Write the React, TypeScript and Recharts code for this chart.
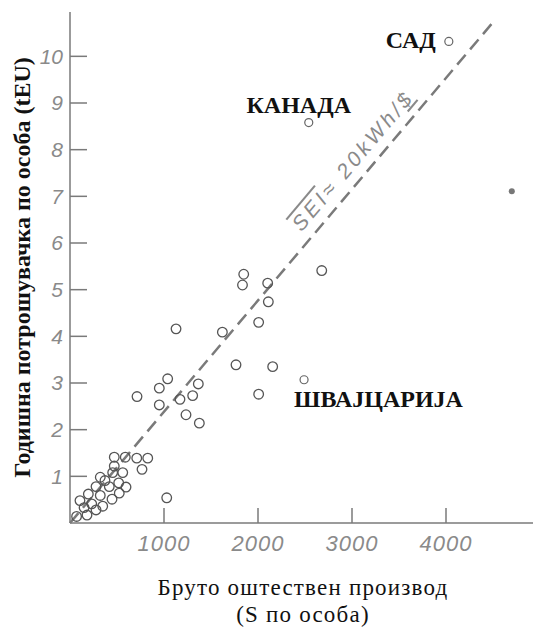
import React from "react";
import {
  ScatterChart,
  Scatter,
  XAxis,
  YAxis,
  ReferenceLine,
  ReferenceDot,
  Label,
} from "recharts";

// БОП по особа ($) и годишна потрошувачка (tEU) — прочитани од сликата
const countryGdp = [
  70, 181, 106, 150, 195, 231, 277, 348, 277, 322, 322, 418, 372, 447, 524,
  454, 518, 561, 471, 471, 588, 596, 710, 827, 766, 1029,
  713, 950, 1039, 1128, 950, 1170, 1234, 1305, 1365, 1376, 1621, 1766, 1848,
  1835, 2007, 2007, 2103, 2110, 2678, 2156,
];
const countryEnergy = [
  0.14, 0.17, 0.48, 0.33, 0.62, 0.41, 0.28, 0.36, 0.78, 0.59, 0.98, 0.78, 0.91,
  0.51, 0.64, 1.08, 0.86, 1.08, 1.22, 1.41, 1.41, 0.77, 1.39, 1.39, 1.15, 0.54,
  2.71, 2.89, 3.09, 4.16, 2.53, 2.65, 2.32, 2.73, 2.98, 2.14, 4.09, 3.39, 5.33,
  5.1, 4.3, 2.76, 5.14, 4.74, 5.41, 3.35,
];

const namedCountries = ["САД", "КАНАДА", "ШВАЈЦАРИЈА"];
const namedGdp = [4030, 2540, 2490];
const namedEnergy = [10.32, 8.58, 3.07];

const markedGdp = [4700];
const markedEnergy = [7.11];

// SEI ≈ 20 kWh/$ линија
const seiGdp = [0, 4500];
const seiEnergy = [0, 10.73];
const seiLabelGdp = 3130;
const seiLabelEnergy = 7.45;

const xTicks = [1000, 2000, 3000, 4000];
const yTicks = [1, 2, 3, 4, 5, 6, 7, 8, 9, 10];

const countries = countryGdp.map((gdp, i) => ({ gdp, energy: countryEnergy[i] }));
const named = namedCountries.map((name, i) => ({
  name,
  gdp: namedGdp[i],
  energy: namedEnergy[i],
}));
const marked = markedGdp.map((gdp, i) => ({ gdp, energy: markedEnergy[i] }));

const AXIS = "#7a7a7a";
const TICK_FONT = "'Liberation Sans', Arial, sans-serif";
const SERIF = "'Liberation Serif', 'Times New Roman', serif";

// where each country name sits relative to its circle
const namePlacement: Record<string, { dx: number; dy: number; anchor: string }> = {
  САД: { dx: -13, dy: 7, anchor: "end" },
  КАНАДА: { dx: -10, dy: -10, anchor: "middle" },
  ШВАЈЦАРИЈА: { dx: -10, dy: 27, anchor: "start" },
};

const OpenCircle = (props: any) => {
  const { cx, cy } = props;
  if (cx == null || cy == null) return null;
  return <circle cx={cx} cy={cy} r={4.8} fill="none" stroke="#555" strokeWidth={1.3} />;
};

const NamedCircle = (props: any) => {
  const { cx, cy, payload } = props;
  if (cx == null || cy == null) return null;
  const p = namePlacement[payload.name];
  return (
    <g>
      <circle cx={cx} cy={cy} r={4} fill="none" stroke="#666" strokeWidth={1.2} />
      <text
        x={cx + p.dx}
        y={cy + p.dy}
        textAnchor={p.anchor as any}
        fontFamily={SERIF}
        fontWeight="bold"
        fontSize={24}
        fill="#111"
      >
        {payload.name}
      </text>
    </g>
  );
};

const FilledDot = (props: any) => {
  const { cx, cy } = props;
  if (cx == null || cy == null) return null;
  return <circle cx={cx} cy={cy} r={3} fill="#777" />;
};

const SeiLabel = (props: any) => {
  const { cx, cy } = props;
  if (cx == null || cy == null) return null;
  return (
    <g transform={`rotate(-49.8 ${cx} ${cy})`}>
      <text
        x={cx + 4}
        y={cy - 11}
        textAnchor="middle"
        fontFamily={TICK_FONT}
        fontStyle="italic"
        fontSize={21}
        letterSpacing={3.5}
        fill="#8a8a8a"
      >
        <tspan textDecoration="overline">SEI</tspan>≈ 20kWh/<tspan textDecoration="underline">$</tspan>
      </text>
    </g>
  );
};

const YTitle = (props: any) => {
  const vb = props.viewBox;
  const x = vb.x + 20;
  const y = vb.y + vb.height / 2;
  return (
    <text
      x={x}
      y={y}
      transform={`rotate(-90 ${x} ${y})`}
      textAnchor="middle"
      fontFamily={SERIF}
      fontWeight="bold"
      fontSize={24}
      fill="#111"
    >
      Годишна потрошувачка по особа (tEU)
    </text>
  );
};

const XTitle = (props: any) => {
  const vb = props.viewBox;
  const x = vb.x + vb.width / 2 - 2;
  return (
    <text textAnchor="middle" fontFamily={SERIF} fontSize={23} letterSpacing={1.2} fill="#111">
      <tspan x={x} y={vb.y + 72}>Бруто оштествен производ</tspan>
      <tspan x={x} y={vb.y + 99}>(S по особа)</tspan>
    </text>
  );
};

export default function App() {
  return (
    <div
      style={{
        position: "fixed",
        left: 0,
        top: 0,
        width: 533,
        height: 629,
        overflow: "hidden",
        background: "#fff",
      }}
    >
      <ScatterChart width={545} height={629} margin={{ top: 12, right: 5, bottom: 6, left: 10 }}>
        <XAxis
          xAxisId="bottom"
          type="number"
          dataKey="gdp"
          domain={[0, 5000]}
          ticks={xTicks}
          allowDataOverflow
          height={100}
          tickSize={-15}
          tickMargin={27}
          axisLine={{ stroke: AXIS, strokeWidth: 1.5 }}
          tickLine={{ stroke: AXIS, strokeWidth: 1.5 }}
          tick={{ fill: "#8a8a8a", fontSize: 22, fontStyle: "italic", fontFamily: TICK_FONT, letterSpacing: 1 }}
        >
          <Label content={<XTitle />} />
        </XAxis>
        <XAxis
          xAxisId="top"
          orientation="top"
          type="number"
          dataKey="gdp"
          domain={[0, 5000]}
          ticks={xTicks}
          allowDataOverflow
          height={0}
          tickSize={-15}
          tick={false}
          axisLine={{ stroke: AXIS, strokeWidth: 1.5 }}
          tickLine={{ stroke: AXIS, strokeWidth: 1.5 }}
        />
        <YAxis
          yAxisId="left"
          type="number"
          dataKey="energy"
          domain={[0, 10.95]}
          ticks={yTicks}
          allowDataOverflow
          width={60}
          tickSize={-17}
          tickMargin={24}
          axisLine={{ stroke: AXIS, strokeWidth: 1.5 }}
          tickLine={{ stroke: AXIS, strokeWidth: 1.5 }}
          tick={{ fill: "#8a8a8a", fontSize: 21, fontStyle: "italic", fontFamily: TICK_FONT }}
        >
          <Label content={<YTitle />} />
        </YAxis>
        <YAxis
          yAxisId="right"
          orientation="right"
          type="number"
          dataKey="energy"
          domain={[0, 10.95]}
          ticks={yTicks}
          allowDataOverflow
          width={0}
          tickSize={-17}
          tick={false}
          axisLine={{ stroke: AXIS, strokeWidth: 1.5 }}
          tickLine={{ stroke: AXIS, strokeWidth: 1.5 }}
        />

        <ReferenceLine
          xAxisId="bottom"
          yAxisId="left"
          segment={[
            { x: seiGdp[0], y: seiEnergy[0] },
            { x: seiGdp[1], y: seiEnergy[1] },
          ]}
          stroke="#7a7a7a"
          strokeWidth={2.5}
          strokeDasharray="13 7"
          ifOverflow="visible"
        />
        <ReferenceDot
          xAxisId="bottom"
          yAxisId="left"
          x={seiLabelGdp}
          y={seiLabelEnergy}
          r={0}
          shape={<SeiLabel />}
          ifOverflow="visible"
        />

        <Scatter
          xAxisId="bottom"
          yAxisId="left"
          data={countries}
          shape={<OpenCircle />}
          isAnimationActive={false}
        />
        <Scatter
          xAxisId="bottom"
          yAxisId="left"
          data={named}
          shape={<NamedCircle />}
          isAnimationActive={false}
        />
        <Scatter
          xAxisId="bottom"
          yAxisId="left"
          data={marked}
          shape={<FilledDot />}
          isAnimationActive={false}
        />
      </ScatterChart>
    </div>
  );
}
